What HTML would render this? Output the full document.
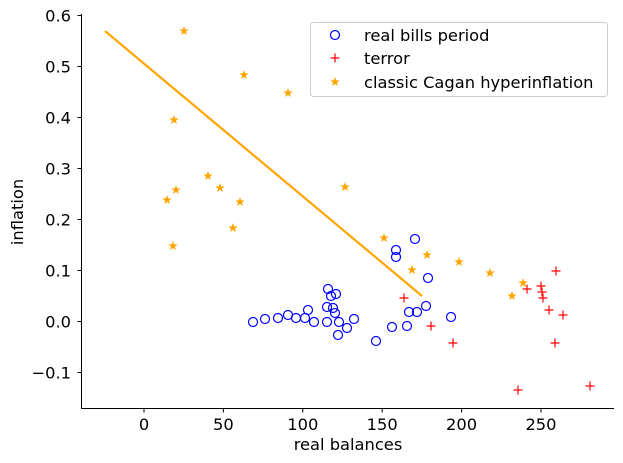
<!DOCTYPE html>
<html><head><meta charset="utf-8"><style>
html,body{margin:0;padding:0;background:#fff;}
svg{display:block;font-family:"DejaVu Sans","Liberation Sans",sans-serif;}
</style></head><body>
<svg width="623" height="463" viewBox="0 0 623 463" xmlns="http://www.w3.org/2000/svg">
<defs>
<g id="c"><circle r="4.5" fill="none" stroke="#0000ff" stroke-width="1.2"/></g>
<g id="p"><path d="M-4.5 0H4.5M0 -4.5V4.5" stroke="#ff0000" stroke-width="1.2"/></g>
<g id="s"><polygon fill="#ffa500" points="0,-5 1.18,-1.62 4.76,-1.55 1.9,0.62 2.94,4.05 0,2 -2.94,4.05 -1.9,0.62 -4.76,-1.55 -1.18,-1.62"/></g>
</defs>
<path d="M81.5 14V408.5H614" fill="none" stroke="#000" stroke-width="1"/>
<g stroke="#000">
<path d="M77.5 15.5H81.5M77.5 66.5H81.5M77.5 117.5H81.5M77.5 168.5H81.5M77.5 219.5H81.5M77.5 270.5H81.5M77.5 321.5H81.5M77.5 372.5H81.5"/>
<path d="M144 408.5V412.5M223.4 408.5V412.5M302.8 408.5V412.5M382.2 408.5V412.5M461.6 408.5V412.5M541 408.5V412.5"/>
</g>
<g font-size="16.3" text-anchor="end" fill="#000">
<text x="71" y="21.5">0.6</text><text x="71" y="72.5">0.5</text><text x="71" y="123.5">0.4</text>
<text x="71" y="174.5">0.3</text><text x="71" y="225.5">0.2</text><text x="71" y="276.5">0.1</text>
<text x="71" y="327.5">0.0</text><text x="71" y="378.5">−0.1</text>
</g>
<g font-size="16.3" text-anchor="middle" fill="#000">
<text x="144" y="430">0</text><text x="223.4" y="430">50</text><text x="302.8" y="430">100</text>
<text x="382.2" y="430">150</text><text x="461.6" y="430">200</text><text x="541" y="430">250</text>
<text x="348" y="450">real balances</text>
<text transform="translate(23,212) rotate(-90)">inflation</text>
</g>
<line x1="105" y1="31" x2="422" y2="296" stroke="#ffa500" stroke-width="2.2"/>
<g>
<use href="#c" x="253" y="322"/><use href="#c" x="265" y="319"/><use href="#c" x="278" y="318"/>
<use href="#c" x="288" y="315"/><use href="#c" x="296" y="318"/><use href="#c" x="305" y="318"/>
<use href="#c" x="308" y="310"/><use href="#c" x="314" y="322"/><use href="#c" x="328" y="289"/>
<use href="#c" x="331" y="296"/><use href="#c" x="336" y="294"/><use href="#c" x="327" y="307"/>
<use href="#c" x="333" y="308"/><use href="#c" x="335" y="313"/><use href="#c" x="327" y="322"/>
<use href="#c" x="339" y="322"/><use href="#c" x="347" y="328"/><use href="#c" x="338" y="335"/>
<use href="#c" x="354" y="319"/><use href="#c" x="376" y="341"/><use href="#c" x="392" y="327"/>
<use href="#c" x="407" y="326"/><use href="#c" x="409" y="312"/><use href="#c" x="417" y="312"/>
<use href="#c" x="426" y="306"/><use href="#c" x="415" y="239"/><use href="#c" x="396" y="250"/>
<use href="#c" x="396" y="257"/><use href="#c" x="428" y="278"/><use href="#c" x="451" y="317"/>
</g>
<g>
<use href="#p" x="404" y="298"/><use href="#p" x="431" y="326"/><use href="#p" x="453" y="343"/>
<use href="#p" x="518" y="390"/><use href="#p" x="527" y="289"/><use href="#p" x="541" y="286"/>
<use href="#p" x="542" y="292"/><use href="#p" x="543" y="298"/><use href="#p" x="549" y="310"/>
<use href="#p" x="556" y="271"/><use href="#p" x="555" y="343"/><use href="#p" x="563" y="315"/>
<use href="#p" x="590" y="386"/>
</g>
<g>
<use href="#s" x="184" y="31"/><use href="#s" x="244" y="75"/><use href="#s" x="288" y="93"/>
<use href="#s" x="174" y="120"/><use href="#s" x="208" y="176"/><use href="#s" x="220" y="188"/>
<use href="#s" x="176" y="190"/><use href="#s" x="167" y="200"/><use href="#s" x="240" y="202"/>
<use href="#s" x="233" y="228"/><use href="#s" x="173" y="246"/><use href="#s" x="345" y="187"/>
<use href="#s" x="384" y="238"/><use href="#s" x="412" y="270"/><use href="#s" x="427" y="255"/>
<use href="#s" x="459" y="262"/><use href="#s" x="490" y="273"/><use href="#s" x="512" y="296"/>
<use href="#s" x="523" y="283"/>
</g>
<rect x="310.5" y="22.5" width="297" height="74" rx="3" fill="#fff" fill-opacity="0.8" stroke="#ccc"/>
<use href="#c" x="335" y="35"/>
<use href="#p" x="335" y="58"/>
<use href="#s" x="335" y="82"/>
<g font-size="16.3" fill="#000">
<text x="364" y="41">real bills period</text>
<text x="364" y="64">terror</text>
<text x="364" y="88">classic Cagan hyperinflation</text>
</g>
</svg>
</body></html>
